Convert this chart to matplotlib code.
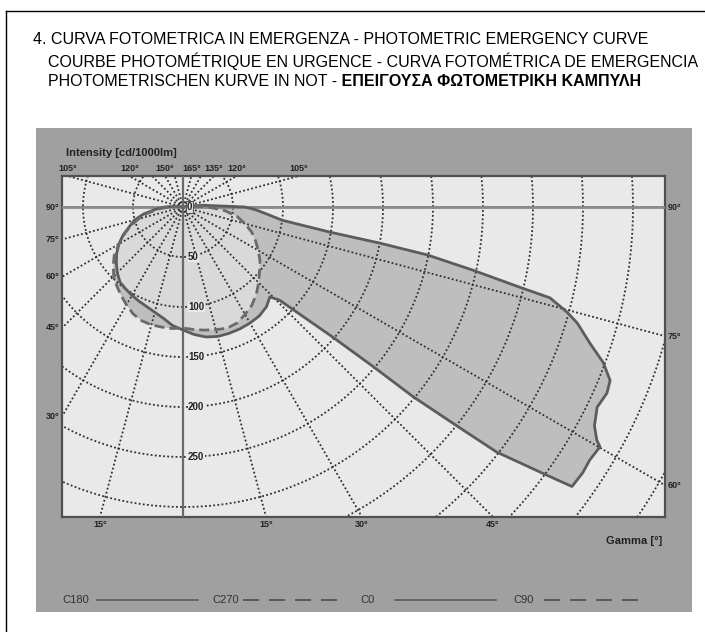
import numpy as np
import matplotlib.pyplot as plt
from matplotlib.patches import Polygon, Rectangle
from matplotlib.lines import Line2D

W, H = 705, 632

# emergency photometry, cd/1000lm
gamma_std = list(range(0, 181, 5))
c180 = [123, 119, 113, 109, 106, 104, 102, 100, 98, 93, 87, 81, 74, 66, 57, 50, 40, 28, 18, 8, 3] + [0] * 16
c270 = [121, 122, 122, 122, 121, 118, 113, 108, 103, 98, 91, 84, 74, 65, 56, 46, 36, 25, 14, 5, 0] + [0] * 16
c90 = [121, 123, 125, 127, 129, 128, 124, 120, 114, 107, 100, 94, 87, 80, 73, 64, 55, 42, 25, 10, 3] + [0] * 16

c0_gamma = [0, 5, 10, 15, 20, 25, 30, 35, 40, 44, 46, 49, 50, 50.5, 51.3, 52, 53.5, 54.3,
            56.4, 58.1, 60.1, 60.6, 62, 64.2, 66.3, 67.9, 69.7, 71.5, 73.6, 74.7, 76.1, 76.6,
            77.7, 78.9, 79.6, 80.3, 82.4, 85, 88, 90, 95, 100, 105, 180]
c0 = [123, 128, 132, 134, 134.5, 134.5, 134, 133, 130, 125, 134, 198, 248, 298, 346, 398, 448, 479,
      480, 479, 481, 475, 466, 460, 463, 461, 448, 429, 411, 398, 378, 346,
      297, 249, 200, 149, 100, 85, 72, 62, 20, 5, 0, 0]

radial_ticks = [50, 100, 150, 200, 250]
left_marks = [90, 75, 60, 45, 30]
right_marks = [90, 75, 60]
bottom_left_marks = [15]
bottom_right_marks = [15, 30, 45]
top_left_marks = [105, 120, 150]
top_right_marks = [165, 135, 120, 105]

legend_items = [("C180", "-"), ("C270", "--"), ("C0", "-"), ("C90", "--")]

title1 = "4. CURVA FOTOMETRICA IN EMERGENZA - PHOTOMETRIC EMERGENCY CURVE"
title2 = "COURBE PHOTOMÉTRIQUE EN URGENCE - CURVA FOTOMÉTRICA DE EMERGENCIA"
title3a = "PHOTOMETRISCHEN KURVE IN NOT -"
title3b = " ΕΠΕΙΓΟΥΣΑ ΦΩΤΟΜΕΤΡΙΚΗ ΚΑΜΠΥΛΗ"


def to_xy(gam, inten, side):
    g = np.radians(np.asarray(gam, dtype=float))
    r = np.asarray(inten, dtype=float)
    return np.column_stack([side * r * np.sin(g), -r * np.cos(g)])


fig = plt.figure(figsize=(W / 100, H / 100), dpi=100)
fig.patch.set_facecolor("white")

sans = ["Liberation Sans", "DejaVu Sans"]

# page frame
fig.add_artist(Line2D([6 / W, 1], [1 - 11 / H, 1 - 11 / H], color="black", lw=1))
fig.add_artist(Line2D([6 / W, 6 / W], [0, 1 - 11 / H], color="black", lw=1))

# grey panel behind the chart
fig.add_artist(Rectangle((36 / W, 1 - 612 / H), (692 - 36) / W, (612 - 128) / H,
                         transform=fig.transFigure, facecolor="#a0a0a0", edgecolor="none", zorder=0))

ax = fig.add_axes([62 / W, 1 - 517 / H, 603 / W, 341 / H])
ax.set_xlim(-121, 482)
ax.set_ylim(-310, 31)
ax.set_facecolor("#e9e9e9")
ax.set_xticks([])
ax.set_yticks([])
for s in ax.spines.values():
    s.set_color("#505050")
    s.set_linewidth(1.6)

solid_pts = np.vstack([to_xy(gamma_std[::-1], c180[::-1], -1), to_xy(c0_gamma, c0, 1)])
dash_pts = np.vstack([to_xy(gamma_std[::-1], c270[::-1], -1), to_xy(gamma_std, c90, 1)])

fill_mid = "#bebebe"
ax.add_patch(Polygon(solid_pts, closed=True, facecolor=fill_mid, edgecolor="none", zorder=1))
ax.add_patch(Polygon(dash_pts, closed=True, facecolor=fill_mid, edgecolor="none", zorder=1))
clip = Polygon(solid_pts, closed=True, transform=ax.transData)
inner = Polygon(dash_pts, closed=True, facecolor="#d9d9d9", edgecolor="none", zorder=1.5)
ax.add_patch(inner)
inner.set_clip_path(clip)

# polar grid
grid_kw = dict(color="#303030", lw=1.3, ls=(0, (1, 1.3)), zorder=2)
for a in range(0, 360, 15):
    t = np.radians(a)
    ax.plot([0, 700 * np.sin(t)], [0, -700 * np.cos(t)], **grid_kw)
th = np.linspace(0, 2 * np.pi, 400)
for r in range(50, 601, 50):
    ax.plot(r * np.cos(th), r * np.sin(th), **grid_kw)

ax.axhline(0, color="#8a8a8a", lw=2, zorder=3)
ax.axvline(0, color="#6a6a6a", lw=1.6, zorder=3)

# curves
ax.plot(solid_pts[:, 0], solid_pts[:, 1], color="#5c5c5c", lw=2, zorder=4)
ax.plot(np.append(dash_pts[:, 0], dash_pts[0, 0]), np.append(dash_pts[:, 1], dash_pts[0, 1]),
        color="#6a6a6a", lw=2, ls=(0, (3.6, 1.8)), zorder=4)

# labels
lab_kw = dict(fontsize=6.5, fontweight="bold", color="#222222", family=sans,
              textcoords="offset points", annotation_clip=False, zorder=6)
x0, x1 = ax.get_xlim()
y0, y1 = ax.get_ylim()
for g in left_marks:
    y = x0 / np.tan(np.radians(g)) if g != 90 else 0
    ax.annotate(f"{g}°", (x0, y), xytext=(-2, 0), ha="right", va="center", **lab_kw)
for g in right_marks:
    y = -x1 / np.tan(np.radians(g)) if g != 90 else 0
    ax.annotate(f"{g}°", (x1, y), xytext=(2, 0), ha="left", va="center", **lab_kw)
for g in bottom_left_marks:
    ax.annotate(f"{g}°", (y0 * np.tan(np.radians(g)), y0), xytext=(0, -2), ha="center", va="top", **lab_kw)
for g in bottom_right_marks:
    ax.annotate(f"{g}°", (-y0 * np.tan(np.radians(g)), y0), xytext=(0, -2), ha="center", va="top", **lab_kw)
for g in top_left_marks:
    ax.annotate(f"{g}°", (y1 * np.tan(np.radians(g)), y1), xytext=(0, 2), ha="center", va="bottom", **lab_kw)
for g in top_right_marks:
    ax.annotate(f"{g}°", (-y1 * np.tan(np.radians(g)), y1), xytext=(0, 2), ha="center", va="bottom", **lab_kw)

for r in radial_ticks:
    ax.text(5, -r, str(r), fontsize=7, fontweight="bold", color="#222222", family=sans,
            ha="left", va="center", zorder=6,
            bbox=dict(facecolor="#e9e9e9", edgecolor="none", pad=0.3))
ax.text(4, 0, "0", fontsize=7, fontweight="bold", color="#222222", family=sans,
        ha="left", va="center", zorder=6,
        bbox=dict(facecolor="#e0e0e0", edgecolor="#555555", lw=0.8, pad=0.6))

ax.annotate("Intensity [cd/1000lm]", (0, 1), xycoords="axes fraction", xytext=(3, 13),
            textcoords="offset points", fontsize=8, fontweight="bold", color="#222222",
            family=sans, ha="left", va="bottom", annotation_clip=False)
ax.annotate("Gamma [°]", (1, 0), xycoords="axes fraction", xytext=(-2, -14),
            textcoords="offset points", fontsize=8, fontweight="bold", color="#222222",
            family=sans, ha="right", va="top", annotation_clip=False)

# legend row
leg_y = 1 - 600 / H
lx = [62, 212, 360, 513]
for (name, ls), x in zip(legend_items, lx):
    fig.text(x / W, leg_y, name, fontsize=8, family=sans, color="#333333", ha="left", va="center")
    if ls == "-":
        fig.add_artist(Line2D([(x + 35) / W, (x + 136) / W], [leg_y, leg_y], color="#555555", lw=1.1))
    else:
        fig.add_artist(Line2D([(x + 31) / W, (x + 126) / W], [leg_y, leg_y], color="#555555", lw=1.3,
                              ls=(0, (8.9, 5.5))))

# titles, shrunk until they fit inside the page
tsize = 13
t1 = fig.text(33 / W, 1 - 40 / H, title1, fontsize=tsize, family=sans, color="black", ha="left", va="center")
t2 = fig.text(48 / W, 1 - 61 / H, title2, fontsize=tsize, family=sans, color="black", ha="left", va="center")
t3 = fig.text(48 / W, 1 - 82 / H, title3a, fontsize=tsize, family=sans, color="black", ha="left", va="center")
t4 = ax.annotate(title3b, xy=(1, 0), xycoords=t3, fontsize=tsize, family=sans, fontweight="bold",
                 color="black", ha="left", va="bottom", annotation_clip=False)
r = fig.canvas.get_renderer()
while max(t.get_window_extent(r).x1 for t in (t1, t2, t4)) > 700 and tsize > 8:
    tsize -= 0.1
    for t in (t1, t2, t3, t4):
        t.set_fontsize(tsize)

fig.savefig("out.png", dpi=100)
